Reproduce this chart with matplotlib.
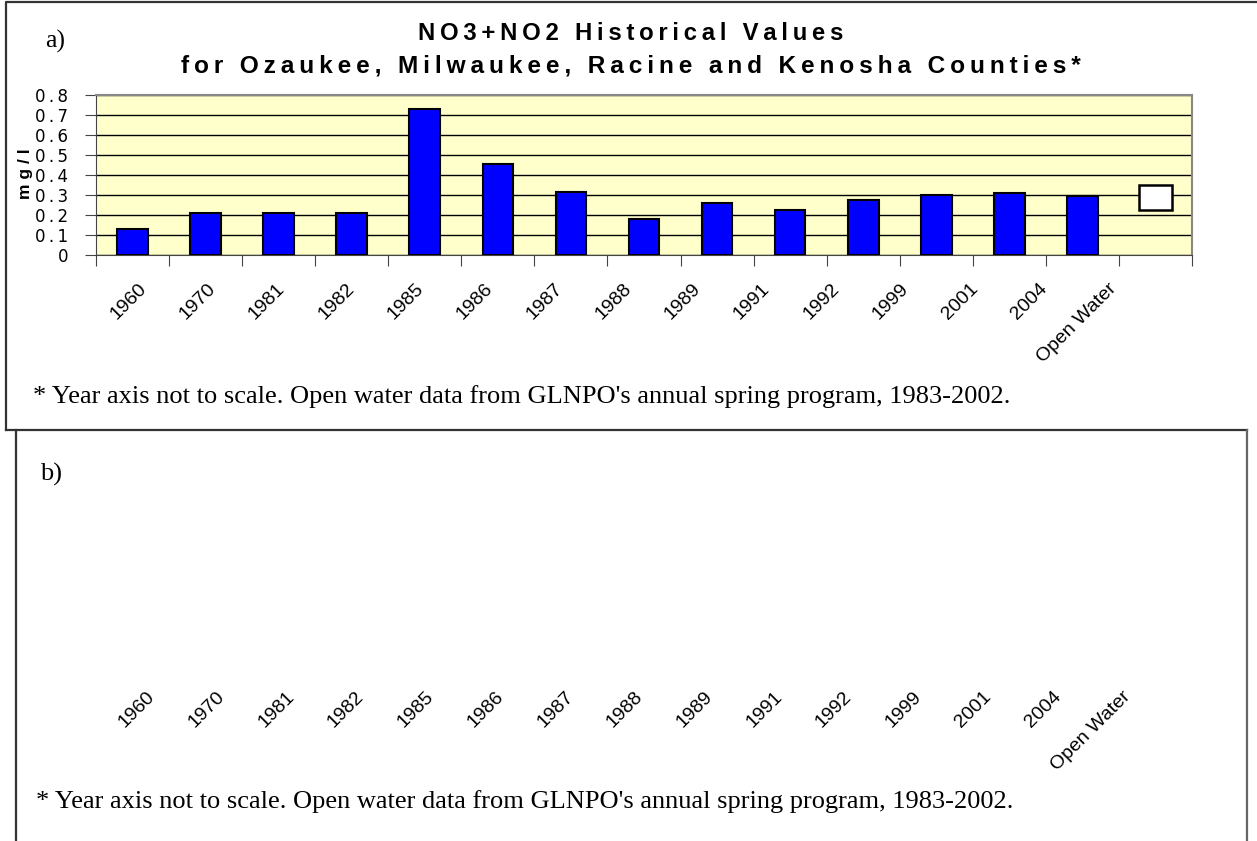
import numpy as np
import matplotlib.pyplot as plt
from matplotlib.lines import Line2D

# data
years = ['1960', '1970', '1981', '1982', '1985', '1986', '1987',
         '1988', '1989', '1991', '1992', '1999', '2001', '2004']
no3_values = [0.13, 0.21, 0.21, 0.21, 0.73, 0.455, 0.315,
              0.178, 0.26, 0.225, 0.275, 0.30, 0.31, 0.295]
open_low = 0.225
open_high = 0.35
cat_labels = years + ['Open Water']
y_ticks = [0, 0.1, 0.2, 0.3, 0.4, 0.5, 0.6, 0.7, 0.8]

title1 = 'NO3+NO2 Historical Values'
title2 = 'for Ozaukee, Milwaukee, Racine and Kenosha Counties*'
footnote = "* Year axis not to scale. Open water data from GLNPO's annual spring program, 1983-2002."

W, H = 1257, 841
SANS = ['Liberation Sans', 'DejaVu Sans']
SERIF = ['Liberation Serif', 'DejaVu Serif']


def fx(px):
    return px / W


def fy(py):
    return 1 - py / H


def spaced(s):
    # the original chart has wide letter spacing
    return '\u2009'.join(s)


fig = plt.figure(figsize=(W / 100, H / 100), dpi=100)

# panel frames
frame = dict(color='#333333', lw=1.6, transform=fig.transFigure)
fig.add_artist(Line2D([fx(6), fx(6), 1.0], [fy(430), fy(2), fy(2)], **frame))
fig.add_artist(Line2D([fx(6), fx(1247)], [fy(430), fy(430)], **frame))
fig.add_artist(Line2D([fx(16), fx(16)], [fy(430), 0], **frame))
fig.add_artist(Line2D([fx(1247), fx(1247)], [fy(430), 0], color='#666666', lw=1.6,
                      transform=fig.transFigure))

# panel a chart
ax = fig.add_axes([fx(96), fy(255), fx(1192) - fx(96), fy(95) - fy(255)])
ax.set_facecolor('#FFFFCC')
x = np.arange(len(years))
ax.bar(x, no3_values, width=0.42, color='#0000FF', edgecolor='black', linewidth=1.5, zorder=3)
ax.bar(len(years), open_high - open_low, bottom=open_low, width=0.44,
       color='white', edgecolor='black', linewidth=1.8, zorder=3)
ax.set_xlim(-0.5, len(cat_labels) - 0.5)
ax.set_ylim(0, 0.8)
ax.set_yticks(y_ticks)
ax.set_yticklabels([('0' if v == 0 else spaced(f'{v:.1f}')) for v in y_ticks],
                   fontsize=12, family='DejaVu Sans')
ax.yaxis.grid(True, color='black', lw=1)
ax.set_axisbelow(True)
ax.set_xticks(np.arange(-0.5, len(cat_labels), 1))
ax.set_xticklabels([])
ax.tick_params(axis='x', direction='out', length=8, color='#444444')
ax.tick_params(axis='y', direction='out', length=8, pad=12, color='#444444')
for side in ['top', 'right']:
    ax.spines[side].set_color('#888888')
    ax.spines[side].set_linewidth(1.5)
for side in ['left', 'bottom']:
    ax.spines[side].set_color('#444444')
ax.text(-0.064, 0.51, 'm g / l', transform=ax.transAxes, rotation=90,
        ha='center', va='center', fontsize=12.5, fontweight='bold', family=SANS)

fig.text(fx(631), fy(34), spaced(title1), ha='center', va='center',
         fontsize=17.2, fontweight='bold', family=SANS)
fig.text(fx(631), fy(66), spaced(title2), ha='center', va='center',
         fontsize=17.6, fontweight='bold', family=SANS)
fig.text(fx(45), fy(41), 'a)', ha='left', va='center', fontsize=18.5, family=SERIF)


# category label rows (not tied to bar positions in the original)
def label_row(top_px, anchor_px, step):
    left = anchor_px - 11.5 * step
    lab = fig.add_axes([fx(left), fy(top_px), fx(15 * step), 0.0005])
    lab.set_xlim(-0.5, len(cat_labels) - 0.5)
    lab.set_xticks(np.arange(len(cat_labels)))
    lab.set_xticklabels(cat_labels, rotation=45, ha='right', va='top',
                        fontsize=14, family=SANS)
    lab.tick_params(axis='x', length=0, pad=0)
    lab.set_yticks([])
    for s in lab.spines.values():
        s.set_visible(False)
    lab.patch.set_visible(False)


label_row(280, 912, 69.3)
fig.text(fx(33), fy(403), footnote, ha='left', va='baseline', fontsize=19, family=SERIF)

# panel b (empty chart, labels only)
fig.text(fx(40), fy(474), 'b)', ha='left', va='center', fontsize=19, family=SERIF)
label_row(688, 925, 69.7)
fig.text(fx(36), fy(808), footnote, ha='left', va='baseline', fontsize=19, family=SERIF)

fig.savefig('out.png', dpi=100)
